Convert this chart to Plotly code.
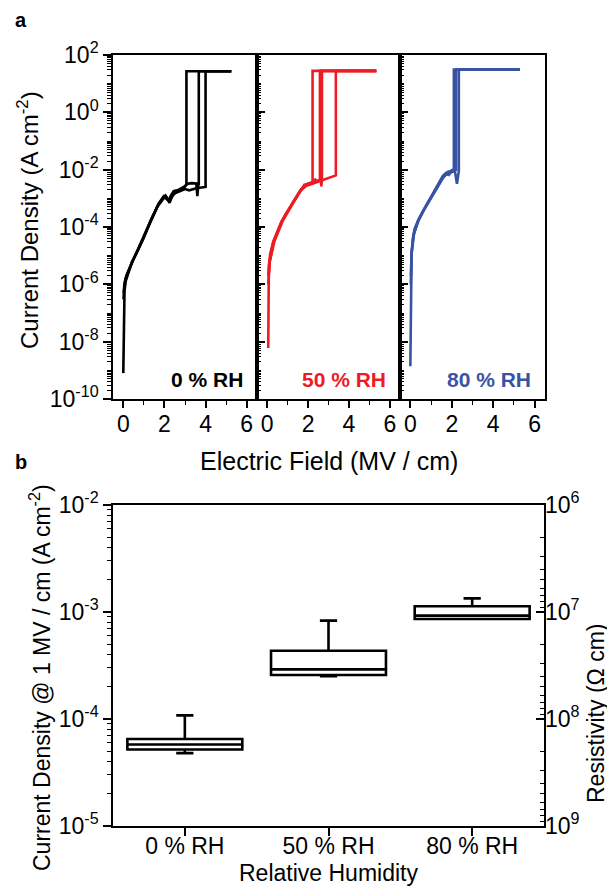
import plotly.graph_objects as go

# page body has an 8 px margin, so the figure is offset by 8 px in the window
OFF = 8
W, H = 615 - OFF, 888 - OFF

# ---------------- Panel a: J-E sweeps (E in MV/cm, J in A/cm^2) ----------------
E_0_s1 = [0.0, 0.02, 0.04, 0.06, 0.12, 0.25, 0.42, 0.7, 0.98, 1.38, 1.7, 1.95, 2.05, 2.2, 2.3, 2.45, 2.7, 2.9, 3.07, 3.07, 5.25]
J_0_s1 = [8e-10, 6e-9, 5e-8, 6e-7, 1.3e-6, 2.5e-6, 6e-6, 1.5e-5, 4e-5, 2e-4, 6e-4, 1.1e-3, 1.25e-3, 8e-4, 1.2e-3, 1.8e-3, 2.0e-3, 2.4e-3, 3.0e-3, 27, 27]
E_0_s2 = [0.01, 0.05, 0.15, 0.45, 0.75, 1.0, 1.4, 1.72, 1.97, 2.1, 2.25, 2.4, 2.6, 2.9, 3.1, 3.3, 3.55, 3.6, 3.65, 3.67, 3.67, 5.25]
J_0_s2 = [3e-7, 1e-6, 2e-6, 6.5e-6, 1.8e-5, 4.5e-5, 2.2e-4, 6.5e-4, 1.2e-3, 1.1e-3, 7e-4, 1.3e-3, 1.7e-3, 2.1e-3, 3.2e-3, 3.4e-3, 3.3e-3, 1.2e-3, 3.2e-3, 3.2e-3, 27, 27]
E_0_s3 = [0.02, 0.1, 0.3, 0.6, 0.9, 1.3, 1.65, 1.9, 2.0, 2.15, 2.3, 2.5, 2.8, 3.0, 3.2, 3.4, 3.6, 3.8, 4.0, 4.0, 5.25]
J_0_s3 = [5e-7, 1.5e-6, 3.5e-6, 1.1e-5, 3e-5, 1.5e-4, 5e-4, 9e-4, 1.1e-3, 9e-4, 1.0e-3, 1.5e-3, 1.9e-3, 2.1e-3, 1.9e-3, 2.1e-3, 2.3e-3, 2.4e-3, 2.5e-3, 27, 27]

E_50_s1 = [0.05, 0.05, 0.06, 0.08, 0.15, 0.29, 0.5, 0.69, 0.9, 1.17, 1.4, 1.57, 1.7, 1.82, 1.95, 2.1, 2.22, 2.22, 5.34]
J_50_s1 = [6e-9, 1e-7, 1e-6, 4.5e-6, 1.2e-5, 3e-5, 7e-5, 1.5e-4, 2.8e-4, 5.6e-4, 1.0e-3, 1.7e-3, 2.4e-3, 3.0e-3, 3.1e-3, 3.3e-3, 3.7e-3, 28, 28]
E_50_s2 = [0.06, 0.1, 0.3, 0.7, 1.2, 1.6, 1.85, 2.0, 2.2, 2.35, 2.45, 2.55, 2.58, 2.58, 5.34]
J_50_s2 = [1e-6, 5e-6, 3e-5, 1.5e-4, 6e-4, 1.8e-3, 2.8e-3, 3.3e-3, 3.6e-3, 4.5e-3, 3.8e-3, 4.2e-3, 4.3e-3, 28, 28]
E_50_s3 = [0.07, 0.12, 0.35, 0.75, 1.25, 1.65, 1.9, 2.1, 2.3, 2.5, 2.62, 2.65, 2.68, 2.68, 5.34]
J_50_s3 = [2e-6, 7e-6, 3.5e-5, 1.7e-4, 7e-4, 2e-3, 3.0e-3, 3.4e-3, 3.8e-3, 4.2e-3, 4.5e-3, 2.6e-3, 4.5e-3, 28, 28]
E_50_s4 = [0.07, 0.12, 0.35, 0.75, 1.25, 1.65, 1.9, 2.2, 2.5, 2.8, 3.1, 3.36, 3.36, 5.34]
J_50_s4 = [2e-6, 6e-6, 3.2e-5, 1.6e-4, 6.5e-4, 1.9e-3, 2.7e-3, 3.2e-3, 3.8e-3, 4.5e-3, 5.3e-3, 6.3e-3, 28, 28]

E_80_s1 = [0.0, 0.01, 0.02, 0.03, 0.06, 0.12, 0.2, 0.4, 0.68, 0.9, 1.16, 1.4, 1.56, 1.7, 1.8, 1.95, 2.05, 2.1, 2.1, 5.28]
J_80_s1 = [1.4e-9, 1e-8, 1e-7, 3e-6, 1.3e-5, 4e-5, 8.5e-5, 1.9e-4, 4.3e-4, 8.5e-4, 1.7e-3, 3.5e-3, 6e-3, 7.5e-3, 8.3e-3, 9e-3, 1.0e-2, 1.05e-2, 31, 31]
E_80_s2 = [0.02, 0.05, 0.15, 0.35, 0.65, 1.0, 1.3, 1.55, 1.72, 1.85, 1.95, 2.1, 2.2, 2.21, 2.21, 5.28]
J_80_s2 = [1e-6, 1e-5, 5e-5, 1.5e-4, 4e-4, 1.1e-3, 2.5e-3, 5e-3, 7e-3, 6.5e-3, 8e-3, 9.5e-3, 1.0e-2, 1.0e-2, 31, 31]
E_80_s3 = [0.03, 0.06, 0.18, 0.4, 0.7, 1.05, 1.35, 1.6, 1.8, 2.0, 2.15, 2.25, 2.3, 2.34, 2.34, 5.28]
J_80_s3 = [2e-6, 1.2e-5, 6e-5, 1.7e-4, 4.5e-4, 1.2e-3, 2.8e-3, 5.5e-3, 7.5e-3, 8.5e-3, 9e-3, 3.2e-3, 8e-3, 9e-3, 31, 31]

panel_labels = ["0 % RH", "50 % RH", "80 % RH"]
panel_colors = ["#000000", "#ED1C24", "#3953A4"]

# ---------------- Panel b: box statistics of J @ 1 MV/cm ----------------
rh_categories = ["0 % RH", "50 % RH", "80 % RH"]
box_lower = [4.8e-5, 2.51e-4, 8.6e-4]
box_q1 = [5.18e-5, 2.58e-4, 8.6e-4]
box_median = [5.77e-5, 2.91e-4, 9.25e-4]
box_q3 = [6.5e-5, 4.35e-4, 1.13e-3]
box_upper = [1.08e-4, 8.3e-4, 1.34e-3]

# tick labels
a_y_tickvals = [1e-10, 1e-8, 1e-6, 1e-4, 1e-2, 1e0, 1e2]
a_y_ticktext = ["10<sup>-10</sup>", "10<sup>-8</sup>", "10<sup>-6</sup>", "10<sup>-4</sup>",
                "10<sup>-2</sup>", "10<sup>0</sup>", "10<sup>2</sup>"]
a_x_tickvals = [0, 2, 4, 6]
b_y_tickvals = [1e-5, 1e-4, 1e-3, 1e-2]
b_y_ticktext = ["10<sup>-5</sup>", "10<sup>-4</sup>", "10<sup>-3</sup>", "10<sup>-2</sup>"]
b_y2_tickvals = [1e6, 1e7, 1e8, 1e9]
b_y2_ticktext = ["10<sup>6</sup>", "10<sup>7</sup>", "10<sup>8</sup>", "10<sup>9</sup>"]


def minor_log(lo, hi):
    vals = []
    for e in range(lo, hi):
        for m in range(1, 10):
            vals.append(m * 10.0 ** e)
    vals.append(10.0 ** hi)
    return vals


FONT = "Arial, Liberation Sans, sans-serif"

fig = go.Figure()

sweeps = [
    [(E_0_s1, J_0_s1), (E_0_s2, J_0_s2), (E_0_s3, J_0_s3)],
    [(E_50_s1, J_50_s1), (E_50_s2, J_50_s2), (E_50_s3, J_50_s3), (E_50_s4, J_50_s4)],
    [(E_80_s1, J_80_s1), (E_80_s2, J_80_s2), (E_80_s3, J_80_s3)],
]
for i, group in enumerate(sweeps):
    ax = "" if i == 0 else str(i + 1)
    for E, J in group:
        fig.add_trace(go.Scatter(x=E, y=J, mode="lines", xaxis="x" + ax, yaxis="y" + ax,
                                 line=dict(color=panel_colors[i], width=2.6),
                                 showlegend=False, hoverinfo="skip"))

fig.add_trace(go.Box(x=rh_categories, q1=box_q1, median=box_median, q3=box_q3,
                     lowerfence=box_lower, upperfence=box_upper,
                     xaxis="x4", yaxis="y4", width=0.8, whiskerwidth=0.15,
                     line=dict(color="black", width=2.6), fillcolor="white",
                     boxpoints=False, showlegend=False))
fig.add_trace(go.Scatter(x=[], y=[], xaxis="x4", yaxis="y5", showlegend=False))


def px(x):
    return (x - OFF) / W


def py(y):
    return 1 - (y - OFF) / H


a_top, a_bot = 55, 399
a_x_edges = [113, 257, 400, 545]
b_left, b_right, b_top, b_bot = 113, 544, 505, 826

line_kw = dict(showline=True, linecolor="black", linewidth=1.6, mirror=True, automargin=False,
               showgrid=False, zeroline=False, tickcolor="black", tickwidth=1.5,
               tickfont=dict(family=FONT, size=23, color="black"))

layout = dict(width=W, height=H, margin=dict(l=0, r=0, t=0, b=0, pad=0, autoexpand=False),
              template="none", font=dict(family=FONT, color="black"),
              paper_bgcolor="white", plot_bgcolor="white", showlegend=False)

for i in range(3):
    ax = "" if i == 0 else str(i + 1)
    layout["xaxis" + ax] = dict(line_kw, domain=[px(a_x_edges[i]), px(a_x_edges[i + 1])],
                                range=[-0.5, 6.5], tickmode="array", tickvals=a_x_tickvals,
                                ticks="outside", ticklen=7, anchor="y" + ax,
                                ticklabelstandoff=-3,
                                minor=dict(tickvals=[1, 3, 5], ticks="outside", ticklen=4,
                                           tickcolor="black", tickwidth=1.2, showgrid=False))
    ydict = dict(line_kw, domain=[py(a_bot), py(a_top)], type="log", range=[-10, 2],
                 tickmode="array", tickvals=a_y_tickvals, anchor="x" + ax,
                 minor=dict(tickvals=minor_log(-10, 2), ticks="outside" if i == 0 else "inside",
                            ticklen=4, tickcolor="black", tickwidth=1, showgrid=False))
    if i == 0:
        ydict.update(ticktext=a_y_ticktext, ticks="outside", ticklen=8)
    else:
        ydict.update(showticklabels=False, ticks="inside", ticklen=8)
    layout["yaxis" + ax] = ydict

bfont = dict(family=FONT, size=23, color="black")
layout["xaxis4"] = dict(line_kw, domain=[px(b_left), px(b_right)], type="category",
                        range=[-0.5, 2.5], ticks="outside", ticklen=8, anchor="y4",
                        tickfont=bfont, ticklabelstandoff=-9)
layout["yaxis4"] = dict(line_kw, domain=[py(b_bot), py(b_top)], type="log", range=[-5, -2],
                        tickmode="array", tickvals=b_y_tickvals, ticktext=b_y_ticktext,
                        ticks="outside", ticklen=8, anchor="x4", tickfont=bfont,
                        minor=dict(tickvals=minor_log(-5, -2), ticks="outside", ticklen=4,
                                   tickcolor="black", tickwidth=1, showgrid=False))
layout["yaxis5"] = dict(showline=False, showgrid=False, zeroline=False, type="log",
                        automargin=False, range=[9, 6], overlaying="y4", side="right",
                        anchor="x4", tickmode="array", tickvals=b_y2_tickvals,
                        ticktext=b_y2_ticktext, ticks="inside", ticklen=8,
                        tickcolor="black", tickwidth=1.5, tickfont=bfont,
                        minor=dict(tickvals=minor_log(6, 9), ticks="inside", ticklen=4,
                                   tickcolor="black", tickwidth=1, showgrid=False))

ann = []
label_right = [245, 388, 533]
for i in range(3):
    ann.append(dict(x=px(label_right[i]), y=py(379), xref="paper", yref="paper",
                    text="<b>" + panel_labels[i] + "</b>", showarrow=False,
                    xanchor="right", yanchor="middle",
                    font=dict(family=FONT, size=21, color=panel_colors[i])))
ann += [
    dict(x=px(21), y=py(20), text="<b>a</b>", font=dict(family=FONT, size=20, color="black")),
    dict(x=px(21), y=py(462), text="<b>b</b>", font=dict(family=FONT, size=20, color="black")),
    dict(x=px(28), y=py(220), text="Current Density (A cm<sup>-2</sup>)", textangle=-90,
         font=dict(family=FONT, size=24, color="black")),
    dict(x=px(329), y=py(461), text="Electric Field (MV / cm)",
         font=dict(family=FONT, size=25, color="black")),
    dict(x=px(40), y=py(678), text="Current Density @ 1 MV / cm (A cm<sup>-2</sup>)",
         textangle=-90, font=dict(family=FONT, size=23, color="black")),
    dict(x=px(596), y=py(714), text="Resistivity (Ω cm)", textangle=-90,
         font=dict(family=FONT, size=23, color="black")),
    dict(x=px(328), y=py(873), text="Relative Humidity",
         font=dict(family=FONT, size=23, color="black")),
]
for a in ann:
    a.setdefault("xref", "paper")
    a.setdefault("yref", "paper")
    a.setdefault("showarrow", False)
    a.setdefault("xanchor", "center")
    a.setdefault("yanchor", "middle")
layout["annotations"] = ann

fig.update_layout(**layout)
fig.write_html("out.html")
